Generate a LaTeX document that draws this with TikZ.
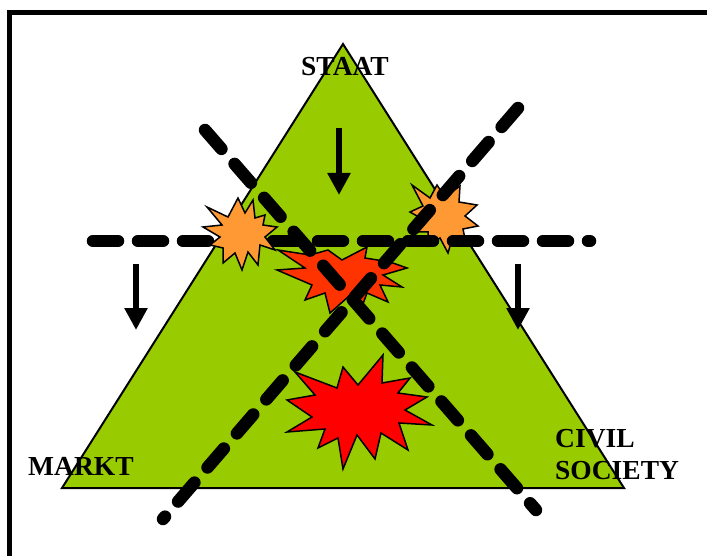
\documentclass[tikz,border=0pt]{standalone}
\usepackage{fontspec}
\setmainfont{Liberation Serif}
\usetikzlibrary{arrows.meta}
\definecolor{triGreen}{HTML}{99CC00}
\definecolor{bangOrange}{HTML}{FF9933}
\definecolor{bangHot}{HTML}{FF3300}
\definecolor{bangRed}{HTML}{FF0000}
\tikzset{
  lbl/.style={font=\fontsize{27.5}{32}\selectfont\bfseries, inner sep=0pt},
  cut/.style={line width=12.5pt, line cap=round, dash pattern=on 25pt off 20pt},
  arr/.style={line width=6pt, -{Triangle[width=22pt,length=22pt]}},
  bang/.style={draw, line width=1.5pt, line join=miter},
  tri/.style={draw, line width=2pt, fill=triGreen, line join=miter}
}

\begin{document}
\begin{tikzpicture}[x=1pt,y=-1pt]
\useasboundingbox (0,0) rectangle (707,556);
\clip (0,0) rectangle (707,556);
\fill[white] (0,0) rectangle (707,556);
\draw[line width=5pt] (9,600) -- (9,13) -- (720,13);
\draw[tri] (343,44) -- (624,488) -- (62,488) -- cycle;
\draw[bang, fill=bangOrange] (412,185) -- (430,198) -- (437,185) -- (445,197) -- (460,186)
  -- (459,202) -- (477,205) -- (465,216) -- (478,226) -- (463,229) -- (466,244)
  -- (453,236) -- (448,253) -- (440,238) -- (428,246) -- (428,232) -- (414,232)
  -- (424,220) -- (410,212) -- (423,206) -- cycle;
\coordinate (h1) at (93,241);
\coordinate (h2) at (590,241);
\draw[cut] (h1) -- (h2);
\draw[bang, fill=bangOrange] (207,207) -- (228,217) -- (238,198) -- (245,213) -- (253,200)
  -- (255,218) -- (265,215) -- (263,225) -- (277,227) -- (265,237) -- (275,250)
  -- (260,245) -- (258,265) -- (248,252) -- (242,270) -- (235,253) -- (223,263)
  -- (223,248) -- (210,245) -- (220,237) -- (203,227) -- (222,225) -- cycle;
\draw[bang, fill=bangHot] (278,250) -- (310,255) -- (328,250) -- (342,260) -- (367,247)
  -- (365,258) -- (390,262) -- (407,268) -- (383,275) -- (402,287) -- (380,285)
  -- (388,302) -- (367,293) -- (360,312) -- (348,297) -- (330,313) -- (325,293)
  -- (305,300) -- (312,285) -- (277,270) -- (305,268) -- cycle;
\draw[bang, fill=bangRed] (295,372) -- (337,388) -- (343,367) -- (358,385) -- (383,355)
  -- (382,383) -- (410,378) -- (398,393) -- (427,397) -- (405,410) -- (432,425)
  -- (399,423) -- (408,450) -- (381,433) -- (375,459) -- (357,435) -- (343,469)
  -- (338,438) -- (318,448) -- (325,429) -- (287,432) -- (312,417) -- (287,400)
  -- (315,395) -- cycle;
\coordinate (d1a) at (205,130);
\coordinate (d1b) at (536,510);
\coordinate (d2a) at (518,108);
\coordinate (d2b) at (163,519);
\draw[cut] (d1a) -- (d1b);
\draw[cut] (d2a) -- (d2b);
\coordinate (sA) at (339,128);
\coordinate (sB) at (339,195);
\coordinate (mA) at (136,264);
\coordinate (mB) at (136,330);
\coordinate (cA) at (518,264);
\coordinate (cB) at (518,330);
\draw[arr] (sA) -- (sB);
\draw[arr] (mA) -- (mB);
\draw[arr] (cA) -- (cB);
\node[lbl] (staat) at (345,67) {STAAT};
\node[lbl, anchor=west] (markt) at (28,466) {MARKT};
\node[lbl, anchor=west, align=left] (civil) at (555,455) {CIVIL\\SOCIETY};
\end{tikzpicture}
\end{document}
